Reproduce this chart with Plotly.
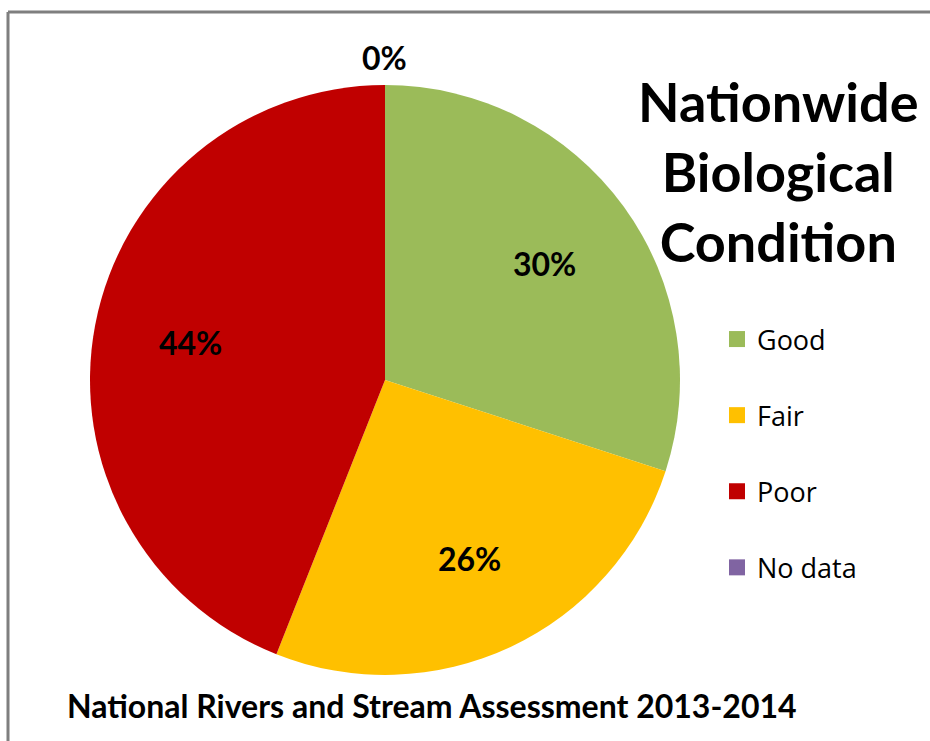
import math
import plotly.graph_objects as go

categories = ["Good", "Fair", "Poor", "No data"]
percent_values = [30, 26, 44, 0]
slice_colors = ["#9BBB59", "#FFC000", "#C00000", "#8064A2"]
title_lines = ["Nationwide", "Biological", "Condition"]
footer_text = "National Rivers and Stream Assessment 2013-2014"

W, H = 930, 741
# pie placement (pixels)
CX, CY, R = 385, 380, 295

fig = go.Figure()

fig.add_trace(go.Pie(
    labels=categories,
    values=percent_values,
    marker=dict(colors=slice_colors, line=dict(width=0)),
    sort=False,
    direction="clockwise",
    rotation=0,
    textinfo="none",
    showlegend=False,
    hoverinfo="label+percent",
    domain=dict(x=[(CX - R) / W, (CX + R) / W], y=[1 - (CY + R) / H, 1 - (CY - R) / H]),
))

# legend entries (one group per category so they can be spaced apart)
for name, col in zip(categories, slice_colors):
    fig.add_trace(go.Scatter(
        x=[None], y=[None], mode="markers", name=name,
        marker=dict(symbol="square", size=16, color=col),
        legendgroup=name, showlegend=True, hoverinfo="skip",
    ))

# percentage labels placed at the middle angle of each slice
total = sum(percent_values)
cum = 0
for name, v in zip(categories, percent_values):
    mid = (cum + v / 2) / total * 2 * math.pi
    cum += v
    if v == 0:
        px, py = CX + (R + 27) * math.sin(mid), CY - (R + 27) * math.cos(mid)
    else:
        px, py = CX + 0.67 * R * math.sin(mid), CY - 0.67 * R * math.cos(mid)
    fig.add_annotation(
        x=px / W, y=1 - py / H, xref="paper", yref="paper",
        xanchor="center", yanchor="middle",
        text=f"<b>{v}%</b>", showarrow=False,
        font=dict(family="Lato", size=32, color="black"),
    )

fig.add_annotation(
    x=778 / W, y=1 - 172 / H, xref="paper", yref="paper",
    xanchor="center", yanchor="middle",
    text="<b>" + "<br>".join(title_lines) + "</b>", showarrow=False,
    font=dict(family="Lato", size=54, color="black"), align="center",
)

fig.add_annotation(
    x=432 / W, y=1 - 705 / H, xref="paper", yref="paper",
    xanchor="center", yanchor="middle",
    text=f"<b>{footer_text}</b>", showarrow=False,
    font=dict(family="Lato", size=32, color="black"),
)

fig.update_layout(
    width=W, height=H,
    margin=dict(l=0, r=0, t=0, b=0),
    paper_bgcolor="white", plot_bgcolor="white",
    xaxis=dict(visible=False), yaxis=dict(visible=False),
    legend=dict(
        x=717 / W, y=1 - 315 / H, xanchor="left", yanchor="top",
        font=dict(family="Open Sans", size=27, color="black"),
        tracegroupgap=38, bgcolor="rgba(0,0,0,0)",
    ),
    shapes=[
        dict(type="line", xref="paper", yref="paper",
             x0=8 / W, x1=1, y0=1 - 12 / H, y1=1 - 12 / H,
             line=dict(color="#7F7F7F", width=3)),
        dict(type="line", xref="paper", yref="paper",
             x0=8 / W, x1=8 / W, y0=0, y1=1 - 12 / H,
             line=dict(color="#7F7F7F", width=3)),
    ],
)

fig.write_html("out.html", config={"displayModeBar": False},
               post_script="document.body.style.margin='0';")
